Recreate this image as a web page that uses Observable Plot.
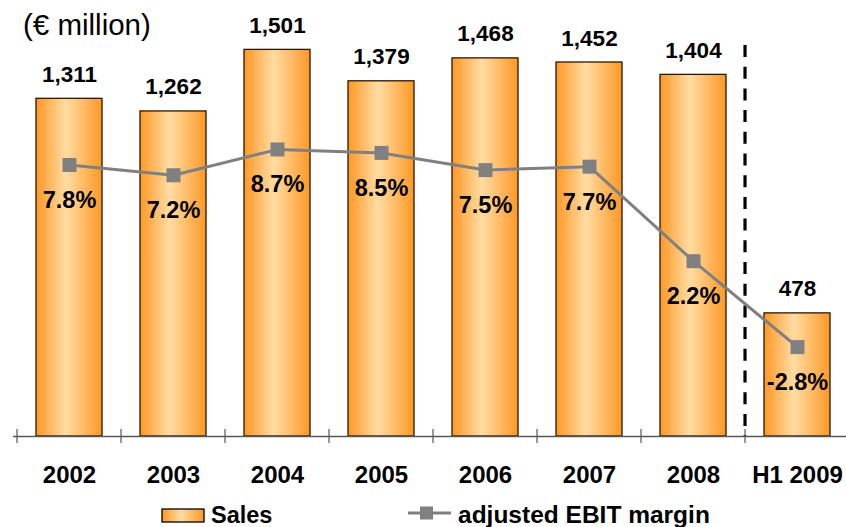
<!DOCTYPE html>
<html>
<head>
<meta charset="utf-8">
<script src="https://cdn.jsdelivr.net/npm/d3@7"></script>
<script src="https://cdn.jsdelivr.net/npm/@observablehq/plot@0.6"></script>
<style>
  body { margin: 0; background: #fff; font-family: Arial, "Liberation Sans", sans-serif; }
  #wrap { position: relative; width: 846px; height: 495px; }
  #wrap > svg { position: absolute; left: 0; top: 0; }
  #title { position: absolute; left: 23px; top: 9.5px; font-size: 29.5px; line-height: 29.5px; color: #000; z-index: 5; }
  #legend { display: block; }
</style>
</head>
<body>
<div id="wrap"><div id="title">(€ million)</div></div>
<svg id="legend" width="846" height="32"></svg>
<script>
const years = ["2002", "2003", "2004", "2005", "2006", "2007", "2008", "H1 2009"];
const sales = [1311, 1262, 1501, 1379, 1468, 1452, 1404, 478];
const ebitMargin = [7.8, 7.2, 8.7, 8.5, 7.5, 7.7, 2.2, -2.8];
const dividerBefore = ["H1 2009"];

const data = years.map((year, i) => ({year, sales: sales[i], margin: ebitMargin[i]}));

const W = 846, H = 495;
const xRange = [13.3, 853];
const step = (xRange[1] - xRange[0]) / years.length;
const font = "Arial, 'Liberation Sans', sans-serif";
const xOpts = {domain: years, range: xRange, paddingInner: 0.37, paddingOuter: 0.185};
const fmtSales = d3.format(",");
const fmtPct = v => v.toFixed(1) + "%";

function addGradient(svgNode, id) {
  const defs = d3.select(svgNode).insert("defs", ":first-child");
  const g = defs.append("linearGradient").attr("id", id)
    .attr("x1", "0").attr("x2", "1").attr("y1", "0").attr("y2", "0");
  g.append("stop").attr("offset", "0%").attr("stop-color", "#FF9826");
  g.append("stop").attr("offset", "45%").attr("stop-color", "#FFDCA3");
  g.append("stop").attr("offset", "100%").attr("stop-color", "#FF9826");
}

const bars = Plot.plot({
  width: W, height: H,
  marginTop: 45, marginBottom: 59, marginLeft: 13, marginRight: 0,
  x: {...xOpts, axis: null},
  y: {domain: [0, 1518], axis: null},
  style: {fontFamily: font, background: "white", overflow: "visible"},
  marks: [
    Plot.barY(data, {x: "year", y: "sales", fill: "url(#barGrad)", stroke: "#2b1600", strokeWidth: 1.3}),
    Plot.text(data, {x: "year", y: "sales", text: d => fmtSales(d.sales), lineAnchor: "bottom", dy: -17,
      fontSize: 22.5, fontWeight: "bold", fill: "#000"}),
    Plot.ruleY([0], {stroke: "#555", strokeWidth: 1.3}),
    Plot.ruleX(years, {x: d => d, y1: 0, y2: 0, insetTop: -7, insetBottom: -7, dx: -step / 2, stroke: "#555", strokeWidth: 1.2}),
    Plot.ruleX(dividerBefore, {x: d => d, dx: -step / 2, stroke: "#000", strokeWidth: 3.2, strokeDasharray: "12,9.7"}),
    Plot.axisX({label: null, tickSize: 0, tickPadding: 29, fontSize: 24, fontWeight: "bold", fill: "#000"})
  ]
});
addGradient(bars, "barGrad");

const line = Plot.plot({
  width: W, height: H,
  marginTop: 45, marginBottom: 59, marginLeft: 13, marginRight: 0,
  x: {...xOpts, axis: null},
  y: {domain: [-8, 14.75], axis: null},
  style: {fontFamily: font, background: "transparent", overflow: "visible"},
  marks: [
    Plot.line(data, {x: "year", y: "margin", stroke: "#808080", strokeWidth: 3}),
    Plot.dot(data, {x: "year", y: "margin", symbol: "square", r: 7.9, fill: "#808080", stroke: "none"}),
    Plot.text(data, {x: "year", y: "margin", text: d => fmtPct(d.margin), lineAnchor: "bottom", dy: 43,
      fontSize: 23.5, fontWeight: "bold", fill: "#000"})
  ]
});

const wrap = document.getElementById("wrap");
wrap.insertBefore(bars, wrap.firstChild);
wrap.insertBefore(line, document.getElementById("title"));

// legend
const lg = d3.select("#legend");
addGradient(lg.node(), "legGrad");
lg.append("rect").attr("x", 162).attr("y", 14).attr("width", 42).attr("height", 13)
  .attr("fill", "url(#legGrad)").attr("stroke", "#000").attr("stroke-width", 1.3);
lg.append("text").attr("x", 211).attr("y", 28.3).text("Sales")
  .attr("font-family", font).attr("font-weight", "bold").attr("font-size", 23.5);
lg.append("line").attr("x1", 408).attr("x2", 451).attr("y1", 18).attr("y2", 18)
  .attr("stroke", "#808080").attr("stroke-width", 3);
lg.append("rect").attr("x", 420).attr("y", 11.5).attr("width", 13).attr("height", 13).attr("fill", "#808080");
lg.append("text").attr("x", 458).attr("y", 28.3).text("adjusted EBIT margin")
  .attr("font-family", font).attr("font-weight", "bold").attr("font-size", 24.5);
</script>
</body>
</html>
